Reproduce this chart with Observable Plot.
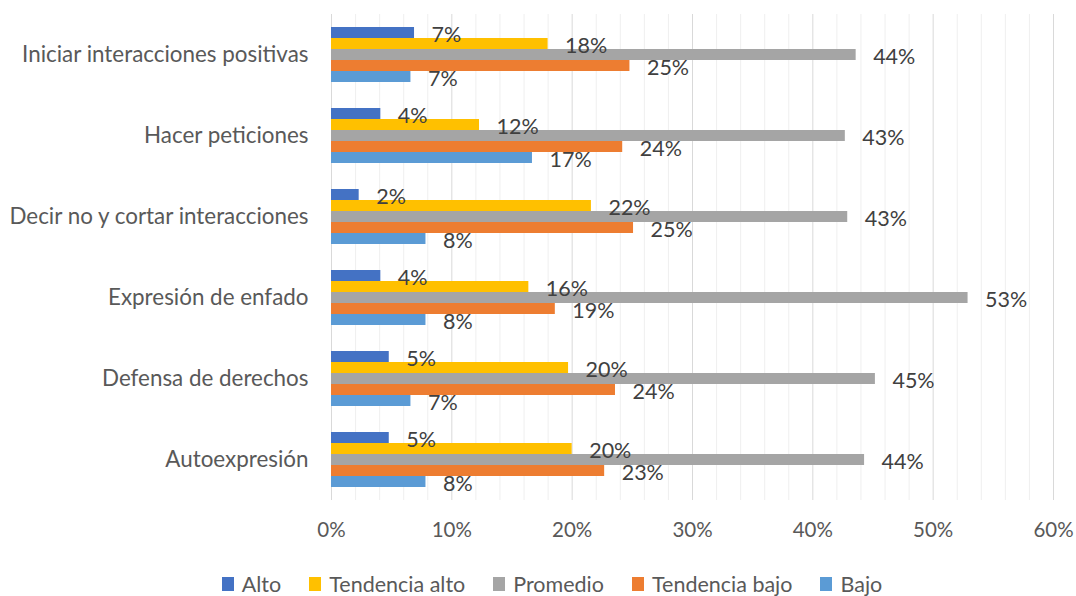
<!DOCTYPE html>
<html>
<head>
<meta charset="utf-8">
<script src="https://cdn.jsdelivr.net/npm/d3@7"></script>
<script src="https://cdn.jsdelivr.net/npm/@observablehq/plot@0.6"></script>
<style>
  html, body { margin: 0; padding: 0; background: #fff; }
  body { width: 1076px; height: 596px; overflow: hidden; font-family: Lato, "Open Sans", sans-serif; }
  #legend { display: flex; justify-content: center; align-items: center; height: 28px; margin-top: 10px; margin-left: 28px; font-size: 21.5px; line-height: 28px; color: #595959; }
  .item { display: flex; align-items: center; margin: 0 14px; }
  .sw { width: 12px; height: 14px; margin-right: 8px; }
</style>
</head>
<body>
<div id="chart"></div>
<div id="legend"></div>
<script>
const categories = ["Iniciar interacciones positivas", "Hacer peticiones", "Decir no y cortar interacciones", "Expresión de enfado", "Defensa de derechos", "Autoexpresión"];
const series = ["Alto", "Tendencia alto", "Promedio", "Tendencia bajo", "Bajo"];
const colors = ["#4472C4", "#FFC000", "#A5A5A5", "#ED7D31", "#5B9BD5"];
const alto          = [6.9, 4.1, 2.3, 4.1, 4.8, 4.8];
const tendenciaAlto = [18.0, 12.3, 21.6, 16.4, 19.7, 20.0];
const promedio      = [43.6, 42.7, 42.9, 52.9, 45.2, 44.3];
const tendenciaBajo = [24.8, 24.2, 25.1, 18.6, 23.6, 22.7];
const bajo          = [6.6, 16.7, 7.85, 7.85, 6.6, 7.85];
const xTicks = [0, 10, 20, 30, 40, 50, 60];
const minorTicks = [2, 4, 6, 8, 12, 14, 16, 18, 22, 24, 26, 28, 32, 34, 36, 38, 42, 44, 46, 48, 52, 54, 56, 58];

const seriesValues = [alto, tendenciaAlto, promedio, tendenciaBajo, bajo];
const data = [];
categories.forEach((c, i) => {
  series.forEach((s, j) => {
    data.push({category: c, series: s, value: seriesValues[j][i]});
  });
});

const chart = Plot.plot({
  width: 1076,
  height: 560,
  marginLeft: 331,
  marginRight: 23,
  marginTop: 11,
  marginBottom: 58,
  style: {fontFamily: "Lato, 'Open Sans', sans-serif", fontSize: "20px", color: "#595959", background: "#fff"},
  x: {domain: [0, 60], axis: null},
  y: {domain: series, axis: null, paddingInner: 0, paddingOuter: 0.97},
  fy: {domain: categories, padding: 0, axis: null},
  color: {domain: series, range: colors},
  marks: [
    Plot.ruleX(minorTicks, {stroke: "#efefef", strokeWidth: 1}),
    Plot.ruleX(xTicks, {stroke: "#d9d9d9", strokeWidth: 1}),
    Plot.barX(data, {x: "value", y: "series", fy: "category", fill: "series"}),
    Plot.text(data, {x: "value", y: "series", fy: "category", text: d => Math.round(d.value) + "%", textAnchor: "start", dx: 17, dy: 2, fill: "#404040", fontSize: 21.5}),
    Plot.axisFy({anchor: "left", tickSize: 0, tickPadding: 23, label: null, fontSize: 22.4, fill: "#595959"}),
    Plot.axisX(xTicks, {anchor: "bottom", tickSize: 0, tickPadding: 22, label: null, tickFormat: d => d + "%", fontSize: 20.5, fill: "#595959", facetAnchor: "bottom"})
  ]
});
document.getElementById("chart").appendChild(chart);

const legend = document.getElementById("legend");
series.forEach((s, j) => {
  const item = document.createElement("div");
  item.className = "item";
  const sw = document.createElement("div");
  sw.className = "sw";
  sw.style.background = colors[j];
  const label = document.createElement("span");
  label.textContent = s;
  item.appendChild(sw);
  item.appendChild(label);
  legend.appendChild(item);
});
</script>
</body>
</html>
